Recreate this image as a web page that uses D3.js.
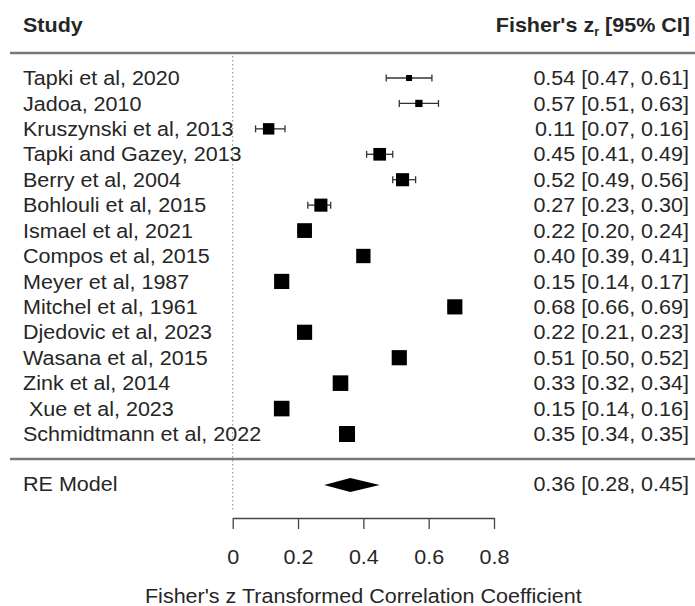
<!DOCTYPE html>
<html><head><meta charset="utf-8">
<script src="https://cdn.jsdelivr.net/npm/d3@7"></script>
<style>body{margin:0;background:#fff}svg{display:block}text{font-family:"Liberation Sans",Arial,sans-serif;fill:#262626;white-space:pre}</style>
</head><body><svg id="c" width="695" height="606"></svg>
<script>
const studies = ["Tapki et al, 2020","Jadoa, 2010","Kruszynski et al, 2013","Tapki and Gazey, 2013","Berry et al, 2004","Bohlouli et al, 2015","Ismael et al, 2021","Compos et al, 2015","Meyer et al, 1987","Mitchel et al, 1961","Djedovic et al, 2023","Wasana et al, 2015","Zink et al, 2014"," Xue et al, 2023","Schmidtmann et al, 2022"];
const est   = [0.54,0.57,0.11,0.45,0.52,0.27,0.22,0.40,0.15,0.68,0.22,0.51,0.33,0.15,0.35];
const lower = [0.47,0.51,0.07,0.41,0.49,0.23,0.20,0.39,0.14,0.66,0.21,0.50,0.32,0.14,0.34];
const upper = [0.61,0.63,0.16,0.49,0.56,0.30,0.24,0.41,0.17,0.69,0.23,0.52,0.34,0.16,0.35];
const weights = [5.2,5.5,6.5,6.8,6.9,6.9,7.3,7.2,7.4,7.4,7.4,7.4,7.5,7.5,7.6];
const reModel = {label:"RE Model", est:0.36, lower:0.28, upper:0.45};
const xTicks = [0,0.2,0.4,0.6,0.8];
const xTitle = "Fisher's z Transformed Correlation Coefficient";

const svg = d3.select("#c");
const SX = 1.05;
function stretch(sel){ sel.each(function(){ const n=this; const w=n.getComputedTextLength(); if(w>0){ n.setAttribute("textLength", w*SX); n.setAttribute("lengthAdjust","spacingAndGlyphs"); } }); return sel; }
const fs = 20.5;

const x = d3.scaleLinear().domain([0,0.8]).range([232.7,494]);
const y = d3.scalePoint().domain(d3.range(studies.length)).range([78,434]);
const yRE = 484;
const size = d3.scaleLinear().domain([d3.min(weights), d3.max(weights)]).range([6,16]);
const fmt = d3.format(".2f");

// header
stretch(svg.append("text").attr("x",23).attr("y",32).attr("font-size",fs).attr("font-weight","bold").text("Study"));
const hdr = svg.append("text").attr("x",690).attr("y",32).attr("text-anchor","end").attr("font-size",fs).attr("font-weight","bold");
hdr.append("tspan").text("Fisher's z");
hdr.append("tspan").attr("font-size",12).attr("dy",4).text("r");
hdr.append("tspan").attr("dy",-4).text(" [95% CI]");
stretch(hdr);

// lines
svg.append("line").attr("x1",10).attr("x2",695).attr("y1",53).attr("y2",53).attr("stroke","#777").attr("stroke-width",2.5);
svg.append("line").attr("x1",10).attr("x2",695).attr("y1",459).attr("y2",459).attr("stroke","#777").attr("stroke-width",2.5);
svg.append("line").attr("x1",x(0)).attr("x2",x(0)).attr("y1",56).attr("y2",512).attr("stroke","#888").attr("stroke-width",1).attr("stroke-dasharray","1.5,2.5");

// rows
const idx = d3.range(studies.length);
const g = svg.append("g");
idx.forEach(i=>{
  const yy = y(i);
  stretch(g.append("text").attr("x",23).attr("y",yy).attr("dy","0.35em").attr("font-size",fs).text(studies[i]));
  stretch(g.append("text").attr("x",689).attr("y",yy).attr("dy","0.35em").attr("text-anchor","end").attr("font-size",fs)
    .text(`${fmt(est[i])} [${fmt(lower[i])}, ${fmt(upper[i])}]`));
  g.append("line").attr("x1",x(lower[i])).attr("x2",x(upper[i])).attr("y1",yy).attr("y2",yy).attr("stroke","#333").attr("stroke-width",1.3);
  [lower[i],upper[i]].forEach(v=>g.append("line").attr("x1",x(v)).attr("x2",x(v)).attr("y1",yy-3.5).attr("y2",yy+3.5).attr("stroke","#333").attr("stroke-width",1.3));
  const s = size(weights[i]);
  g.append("rect").attr("x",x(est[i])-s/2).attr("y",yy-s/2).attr("width",s).attr("height",s).attr("fill","#000");
});

// RE model
stretch(svg.append("text").attr("x",23).attr("y",yRE).attr("dy","0.35em").attr("font-size",fs).text(reModel.label));
stretch(svg.append("text").attr("x",689).attr("y",yRE).attr("dy","0.35em").attr("text-anchor","end").attr("font-size",fs)
  .text(`${fmt(reModel.est)} [${fmt(reModel.lower)}, ${fmt(reModel.upper)}]`));
svg.append("path").attr("d",`M${x(reModel.lower)},${yRE+1}L${x(reModel.est)},${yRE-6}L${x(reModel.upper)},${yRE+1}L${x(reModel.est)},${yRE+8}Z`).attr("fill","#000");

// axis
const ax = svg.append("g").attr("transform","translate(0,518)")
  .call(d3.axisBottom(x).tickValues(xTicks).tickFormat(d=>d===0?"0":d3.format(".1f")(d)).tickSize(11).tickSizeOuter(0));
ax.select(".domain").attr("stroke","#444").attr("stroke-width",1.3);
ax.selectAll(".tick line").attr("stroke","#444").attr("stroke-width",1.3);
ax.selectAll(".tick text").attr("font-size",fs).attr("y",39).attr("dy","0.35em").attr("fill","#262626").attr("font-family",null);
stretch(ax.selectAll(".tick text"));
stretch(svg.append("text").attr("x",x(0.4)).attr("y",603).attr("text-anchor","middle").attr("font-size",fs).text(xTitle));
</script></body></html>
